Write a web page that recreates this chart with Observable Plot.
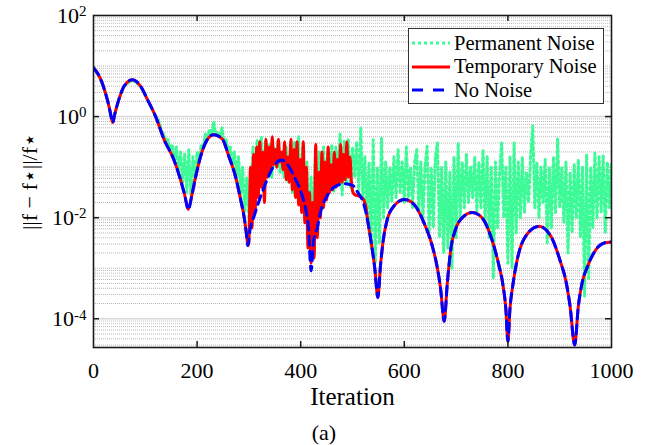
<!DOCTYPE html>
<html><head><meta charset="utf-8">
<script src="https://cdn.jsdelivr.net/npm/d3@7"></script>
<script src="https://cdn.jsdelivr.net/npm/@observablehq/plot@0.6"></script>
<style>
body{margin:0;background:#fff;}
#wrap{position:relative;width:654px;height:445px;font-family:'Liberation Serif','Times New Roman',serif;color:#000;}
#wrap svg text{font-family:'Liberation Serif','Times New Roman',serif;}
#legend{position:absolute;left:408px;top:28px;width:194px;height:74px;border:1.5px solid #333;background:#fff;}
.row{position:absolute;left:0;height:24px;display:flex;align-items:center;font-size:20.5px;white-space:nowrap;}
.row svg{margin-left:3px;margin-right:4px;}
#caption{position:absolute;left:0;width:648px;top:420px;text-align:center;font-size:22px;line-height:26px;}
</style></head>
<body><div id="wrap"></div>
<script>
// ---- data ----
const seriesNames = ["Permanent Noise", "Temporary Noise", "No Noise"];
const seriesColors = ["#3cfa96", "#ff0000", "#0000ff"];
const xTicks = [0, 200, 400, 600, 800, 1000];
const yTicks = [1e-4, 1e-2, 1, 100];
const yTickLabels = ["10^-4", "10^-2", "10^0", "10^2"];
const xDomain = [0, 1000];
const yDomain = [2.7e-5, 100];
const xLabel = "Iteration";
const yLabel = "||f − f⋆||/f⋆";
const captionText = "(a)";

// No Noise (smooth) curve
const blueIter = [0,13,23,30,34,37,41,49,59,75,91,104,120,136,155,168,176,183,190,197,
  207,220,232,249,261,274,284,291,295,298,302,310,323,335,350,362,375,387,403,410,
  415,420,425,432,438,451,467,485,500,509,522,530,537,543,549,554,560,567,580,600,
  619,638,654,663,670,677,683,690,699,715,731,750,767,783,790,796,800,804,810,818,
  834,860,883,902,912,920,929,936,943,954,970,986,1000];
const blueValue = [9.3,5.75,2.95,1.58,1.0,0.76,1.12,2.19,3.98,5.37,3.98,2.19,1.0,0.355,0.141,0.0562,0.0282,0.0145,0.0282,0.063,
  0.166,0.355,0.437,0.355,0.166,0.066,0.0229,0.01,0.005,0.00282,0.00562,0.0107,0.0269,0.0562,0.112,0.138,0.112,0.066,0.0269,0.0141,
  0.0063,0.00089,0.00355,0.0063,0.0126,0.0269,0.0417,0.0468,0.0437,0.0331,0.0182,0.0079,0.00282,0.001,0.000263,0.00112,0.004,0.00912,0.017,0.0229,
  0.0182,0.0079,0.00275,0.00112,0.0004,0.0000891,0.0005,0.0025,0.00589,0.0107,0.0126,0.01,0.00427,0.0011,0.0005,0.000158,0.0000355,0.000158,0.0005,0.00148,
  0.00427,0.00676,0.00427,0.00129,0.00056,0.000178,0.0000302,0.000178,0.0005,0.0011,0.00234,0.00316,0.00331];

// Temporary Noise: noisy stretch (iterations 300..501, every 3) then short tail
const redNoiseStart = 300, redNoiseStep = 3;
const redNoise = [0.00316,0.1,0.0063,0.178,0.0126,0.251,0.025,0.316,0.04,0.2,
  0.02,0.355,0.063,0.251,0.079,0.398,0.112,0.224,0.1,0.355,
  0.126,0.2,0.089,0.316,0.0562,0.158,0.05,0.355,0.0355,0.224,
  0.025,0.316,0.0178,0.141,0.0126,0.316,0.0079,0.1,0.0025,0.0316,
  0.00126,0.02,0.00158,0.282,0.004,0.079,0.01,0.2,0.0158,0.126,
  0.0224,0.251,0.0316,0.112,0.0355,0.2,0.04,0.141,0.0447,0.282,
  0.05,0.178,0.0562,0.316,0.063,0.158,0.05,0.0316];
const redTailIter = [505, 512, 520, 526];
const redTailValue = [0.0282, 0.0269, 0.024, 0.0158];

// Permanent Noise: noisy from iteration 120 to 1000, every 4
const greenNoiseStart = 120, greenNoiseStep = 4;
const greenNoise = [
  1.0,0.89,0.71,0.5,0.45,0.32,0.35,0.2,0.28,0.14,
  0.25,0.089,0.2,0.05,0.18,0.032,0.22,0.028,0.16,0.056,
  0.2,0.14,0.28,0.26,0.45,0.36,0.56,0.44,0.79,0.44,
  0.5,0.38,0.6,0.32,0.35,0.2,0.25,0.11,0.2,0.063,
  0.16,0.028,0.1,0.0126,0.063,0.01,
  0.032,0.25,0.04,0.35,0.063,0.4,0.05,0.32,0.079,0.28,
  0.063,0.25,0.1,0.32,0.079,0.2,0.063,0.25,0.05,0.28,
  0.032,0.32,0.025,0.4,0.02,0.25,0.01,0.126,0.005,0.063,
  0.0063,0.16,0.0126,0.2,0.025,0.25,0.032,0.18,0.04,0.28,
  0.032,0.25,0.05,0.45,0.028,0.32,0.05,0.35,0.04,0.25,
  0.063,0.32,0.032,0.6,0.025,0.16,0.01,0.126,0.0025,0.35,
  0.00126,0.1,0.0032,0.38,0.01,0.126,0.0158,0.1,0.02,0.16,
  0.025,0.22,0.032,0.126,0.02,0.25,0.025,0.1,0.0158,0.126,
  0.22,0.0126,0.126,0.01,0.1,0.26,0.005,0.1,0.0063,0.16,
  0.3,0.004,0.1,0.002,0.126,0.0025,0.079,0.001,0.16,0.004,
  0.3,0.01,0.126,0.0158,0.178,0.02,0.1,0.025,0.16,0.0126,
  0.126,0.0158,0.22,0.0079,0.16,0.004,0.1,0.00063,0.126,0.0063,
  0.079,0.3,0.01,0.1,0.00126,0.16,0.001,0.3,0.005,0.126,
  0.01,0.16,0.0126,0.079,0.02,0.178,0.65,0.0158,0.126,0.01,
  0.1,0.02,0.141,0.0032,0.1,0.0063,0.16,0.0126,0.36,0.0158,
  0.1,0.0079,0.126,0.002,0.079,0.005,0.112,0.01,0.141,0.004,
  0.1,0.00028,0.178,0.00063,0.1,0.0063,0.19,0.01,0.16,0.0126,
  0.166,0.005,0.126,0.0158,0.126];

// ---- build tables ----
const blue = blueIter.map((it, i) => ({iter: it, value: blueValue[i]}));
const red = [
  ...blue.filter(d => d.iter < redNoiseStart),
  ...redNoise.map((v, i) => ({iter: redNoiseStart + i * redNoiseStep, value: v})),
  ...redTailIter.map((it, i) => ({iter: it, value: redTailValue[i]})),
  ...blue.filter(d => d.iter >= 530)
];
const green = [
  ...blue.filter(d => d.iter < greenNoiseStart),
  ...greenNoise.map((v, i) => ({iter: greenNoiseStart + i * greenNoiseStep, value: v}))
];

const FONT = "'Liberation Serif','Times New Roman',serif";
const W = 654, H = 412, mL = 93, mR = 43, mT = 15, mB = 65;
const plotW = W - mL - mR, plotH = H - mT - mB;
const minorGrid = d3.scaleLog().domain(yDomain).ticks(30).filter(t => !yTicks.some(m => Math.abs(m - t) / m < 1e-9));
const innerX = xTicks.filter(t => t > xDomain[0] && t < xDomain[1]);
const innerY = yTicks.filter(t => t > yDomain[0] && t < yDomain[1]);
const axisColor = "#1a1a1a";

const chart = Plot.plot({
  width: W, height: H,
  marginLeft: mL, marginRight: mR, marginTop: mT, marginBottom: mB,
  style: {fontFamily: FONT, fontSize: "22px", background: "white", color: "#000"},
  x: {domain: xDomain, label: null},
  y: {type: "log", domain: yDomain, label: null},
  marks: [
    Plot.ruleY(minorGrid, {stroke: "#b8b8b8", strokeWidth: 1, strokeDasharray: "1,1"}),
    Plot.ruleY(innerY, {stroke: "#d8d8d8", strokeWidth: 1.5}),
    Plot.line(green, {x: "iter", y: "value", stroke: seriesColors[0], strokeWidth: 3, strokeDasharray: "3,3", clip: true}),
    Plot.line(red, {x: "iter", y: "value", stroke: seriesColors[1], strokeWidth: 3, curve: "monotone-x", clip: true}),
    Plot.line(blue, {x: "iter", y: "value", stroke: seriesColors[2], strokeWidth: 3, strokeDasharray: "9,6", curve: "monotone-x", clip: true}),
    Plot.frame({stroke: axisColor, strokeWidth: 1.6}),
    Plot.ruleX(innerX, {insetTop: plotH - 6, stroke: axisColor, strokeWidth: 1.5}),
    Plot.ruleX(innerX, {insetBottom: plotH - 6, stroke: axisColor, strokeWidth: 1.5}),
    Plot.ruleY(innerY, {insetRight: plotW - 6, stroke: axisColor, strokeWidth: 1.5}),
    Plot.ruleY(innerY, {insetLeft: plotW - 6, stroke: axisColor, strokeWidth: 1.5}),
    Plot.axisX({ticks: xTicks, tickSize: 0, tickPadding: 15, fontSize: 22, fontFamily: FONT, label: null,
      tickFormat: d => String(d)}),
    Plot.axisY({ticks: yTicks, tickSize: 0, tickPadding: 7, fontSize: 22, fontFamily: FONT, label: null,
      tickFormat: d => yTickLabels[yTicks.findIndex(t => Math.abs(t - d) / t < 1e-9)]}),
    Plot.text([xLabel], {text: d => d, frameAnchor: "bottom", dy: 57, fontSize: 25, fontFamily: FONT}),
    Plot.text([yLabel], {text: d => d, frameAnchor: "left", textAnchor: "middle", dx: -64, rotate: -90, fontSize: 22, fontFamily: FONT, ariaLabel: "y-label"})
  ]
});
d3.select(chart).selectAll("text").attr("font-family", FONT).style("font-family", FONT);

// superscripts on tick labels
d3.select(chart).selectAll('g[aria-label="y-axis tick label"] text').each(function() {
  const t = d3.select(this);
  const [base, exp] = t.text().split("^");
  t.text(null);
  t.append("tspan").text(base);
  t.append("tspan").attr("dy", "-0.42em").attr("font-size", "15px").text(exp);
});
// math styling on y label
d3.select(chart).selectAll('g[aria-label="y-label"] text').each(function() {
  const t = d3.select(this);
  t.text(null);
  const parts = [["||", 0, 0], ["f", 1, 0], [" − ", 0, 0], ["f", 1, 0], ["⋆", 0, 1], ["||/", 0, -1], ["f", 1, 0], ["⋆", 0, 1]];
  parts.forEach(([s, it, sup]) => {
    const sp = t.append("tspan").text(s);
    if (it) sp.style("font-style", "italic");
    if (sup === 1) sp.attr("dy", "-0.5em").attr("font-size", "12px");
    if (sup === -1) sp.attr("dy", "0.5em");
  });
});

const wrap = document.getElementById("wrap");
wrap.appendChild(chart);

// legend
const legend = document.createElement("div");
legend.id = "legend";
const dashes = ["3,3", null, "11,10"];
seriesNames.forEach((name, i) => {
  const row = document.createElement("div");
  row.className = "row";
  row.style.top = (2 + i * 23.7) + "px";
  row.innerHTML = `<svg width="38" height="6"><line x1="0" x2="38" y1="3" y2="3" stroke="${seriesColors[i]}" stroke-width="3" ${dashes[i] ? `stroke-dasharray="${dashes[i]}"` : ""}/></svg><span>${name}</span>`;
  legend.appendChild(row);
});
wrap.appendChild(legend);

const cap = document.createElement("div");
cap.id = "caption";
cap.textContent = captionText;
wrap.appendChild(cap);
</script>
</body></html>
